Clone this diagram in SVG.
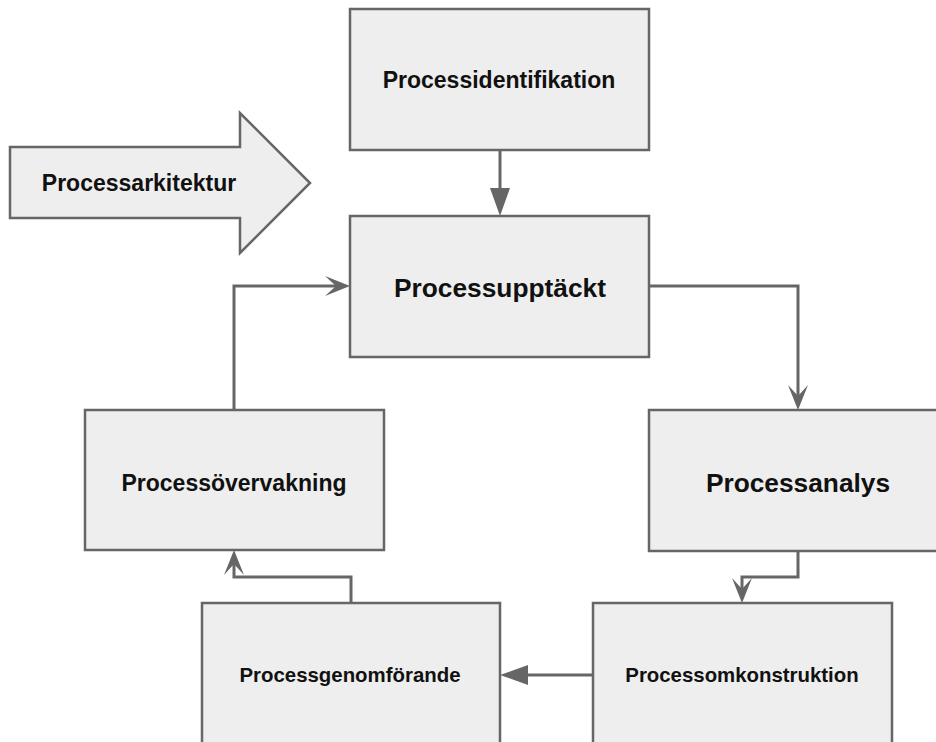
<svg xmlns="http://www.w3.org/2000/svg" width="936" height="742" viewBox="0 0 936 742">
<style>
.box{fill:#eeeeee;stroke:#666666;stroke-width:2.5}
.lbl{font-family:"Liberation Sans",Arial,sans-serif;font-weight:bold;fill:#111111;text-anchor:middle}
.m{font-size:23px}
.l{font-size:26.3px}
.s{font-size:20.4px}
.edge{fill:none;stroke:#666666;stroke-width:3}
</style>
<defs>
<marker id="filled" markerUnits="userSpaceOnUse" viewBox="0 0 28 20" refX="18" refY="10" markerWidth="28" markerHeight="20" orient="auto">
<path d="M0,0 L28,10 L0,20 Z" fill="#666666"/>
</marker>
<marker id="open" markerUnits="userSpaceOnUse" viewBox="0 0 25 20" refX="15" refY="10" markerWidth="25" markerHeight="20" orient="auto">
<path d="M0,0 L25,10 L0,20 L11,10 Z" fill="#666666"/>
</marker>
</defs>
<rect width="936" height="742" fill="#ffffff"/>
<g id="connectors">
<path class="edge" d="M500,150 V206" marker-end="url(#filled)"/>
<path class="edge" d="M649,286 H798 V400" marker-end="url(#open)"/>
<path class="edge" d="M798,551 V577 H742 V593" marker-end="url(#open)"/>
<path class="edge" d="M593,675 H510" marker-end="url(#filled)"/>
<path class="edge" d="M351,603 V577 H234 V560" marker-end="url(#open)"/>
<path class="edge" d="M234,410 V286 H340" marker-end="url(#open)"/>
</g>
<g id="processarkitektur">
<polygon class="box" points="10,147 240,147 240,113 310,183 240,253 240,218 10,218"/>
<text class="lbl m" x="139" y="191">Processarkitektur</text>
</g>
<g id="processidentifikation">
<rect class="box" x="350" y="9" width="299" height="141"/>
<text class="lbl m" x="499" y="88">Processidentifikation</text>
</g>
<g id="processupptackt">
<rect class="box" x="350" y="216" width="299" height="141"/>
<text class="lbl l" x="500" y="297">Processupptäckt</text>
</g>
<g id="processovervakning">
<rect class="box" x="85" y="410" width="299" height="140"/>
<text class="lbl m" x="234" y="491">Processövervakning</text>
</g>
<g id="processanalys">
<rect class="box" x="649" y="410" width="300" height="141"/>
<text class="lbl l" x="798" y="492">Processanalys</text>
</g>
<g id="processgenomforande">
<rect class="box" x="202" y="603" width="298" height="160"/>
<text class="lbl s" x="350" y="682">Processgenomförande</text>
</g>
<g id="processomkonstruktion">
<rect class="box" x="593" y="603" width="299" height="160"/>
<text class="lbl s" x="742" y="682">Processomkonstruktion</text>
</g>
</svg>
